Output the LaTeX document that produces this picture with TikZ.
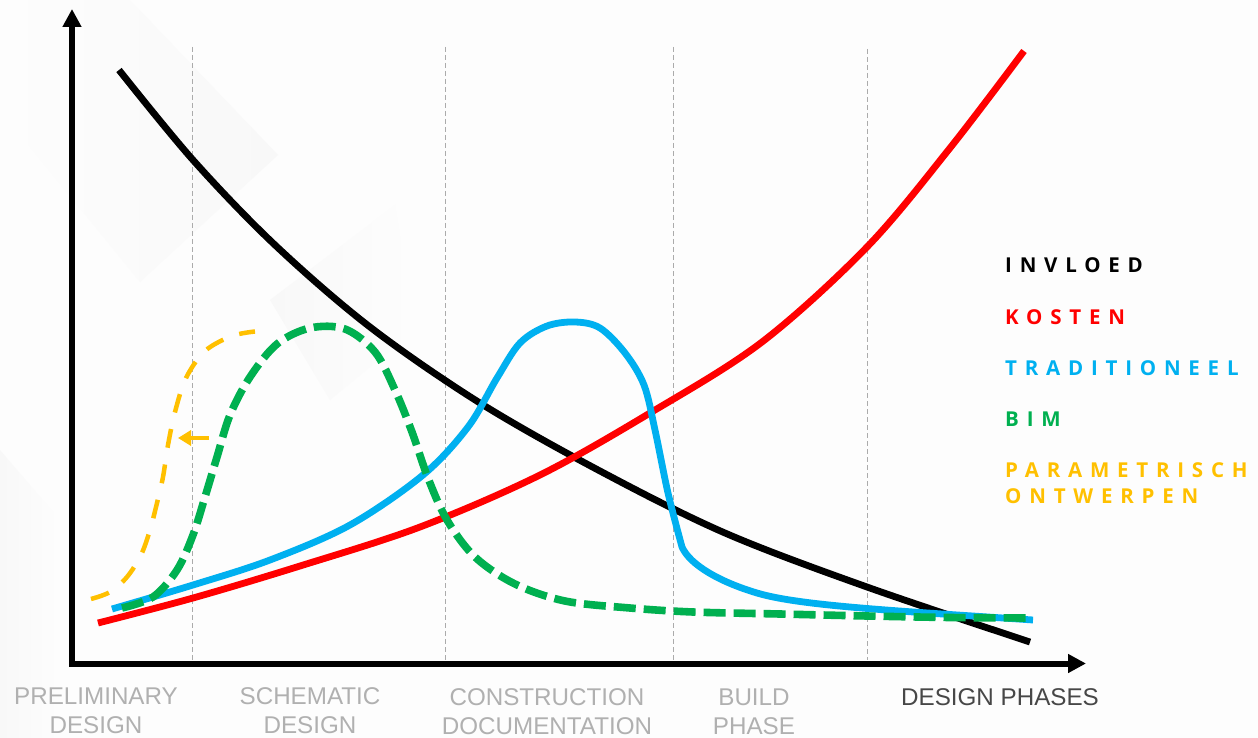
\documentclass[tikz,border=0pt]{standalone}
\usepackage{fontspec}
\setmainfont{Liberation Sans}
\newfontfamily\legendfont[LetterSpace=38]{Open Sans}
\usetikzlibrary{arrows.meta}
\definecolor{cblue}{HTML}{00B0F0}
\definecolor{cgreen}{HTML}{00B050}
\definecolor{cyellow}{HTML}{FFC000}
\definecolor{cguide}{HTML}{ABABAB}
\definecolor{cphase}{HTML}{B0B0B0}
\definecolor{bgbase}{HTML}{FDFDFD}
\definecolor{bgshape}{HTML}{F8F8F8}
\tikzset{
  axisline/.style={line width=6pt,-{Triangle[length=18pt,width=18pt]}},
  guide/.style={cguide,line width=1pt,dash pattern=on 5pt off 3pt},
  curve/.style={line width=6.8pt,line join=round},
  legend/.style={anchor=west,inner sep=0pt,font=\legendfont\bfseries\fontsize{20.5}{20.5}\selectfont},
  phase/.style={align=center,inner sep=0pt,cphase,font=\fontsize{24.2}{29}\selectfont},
  facet/.style={left color=bgbase,right color=bgshape,draw=none},
}
\begin{document}
\begin{tikzpicture}[x=1pt,y=-1pt]
\useasboundingbox (0,0) rectangle (1258,738);
\fill[bgbase] (0,0) rectangle (1258,738);
% faint background facets
\shade[facet] (0,0) -- (130,0) -- (278,155) -- (140,282) -- (0,110) -- cycle;
\shade[facet,left color=bgshape,right color=bgbase] (270,300) -- (395,205) -- (415,330) -- (330,400) -- cycle;
\shade[facet,left color=bgshape,right color=bgbase] (0,450) -- (60,520) -- (60,738) -- (0,738) -- cycle;
% guides
\foreach \n/\x/\t in {a/192.5/47,b/445/47,c/673.5/47,d/867/49}{
  \coordinate (\n top) at (\x,\t);
  \coordinate (\n bot) at (\x,660);
  \draw[guide] (\n top) -- (\n bot);
}
% axes
\coordinate (origin) at (72,663.5);
\coordinate (ytip) at (72,9);
\coordinate (xtip) at (1086,663.5);
\draw[axisline] (origin) -- (ytip);
\draw[axisline] ([xshift=-3pt]origin) -- (xtip);
% curves
\draw[curve,cyellow,line width=4.5pt,dash pattern=on 19pt off 17pt]
  plot[smooth,tension=.55] coordinates {(91,599) (110,592) (127,577) (141,555) (150,530) (157,503) (163,477) (168,445) (175,412) (186,378) (205,351) (232,336) (255,331.5)};
\draw[curve,black] plot[smooth,tension=.55] coordinates {(119,70) (193,160) (275,245) (370,327) (480,403) (600,471) (725,533) (867,587) (1030,642)};
\draw[curve,red] plot[smooth,tension=.55] coordinates {(98,623) (193,598) (300,566) (420,527) (540,475) (650,413) (762,342) (867,247) (950,148) (1024,51)};
\draw[curve,cblue] plot[smooth,tension=.55] coordinates {(112,609) (193,585) (270,560) (350,525) (423,475) (468,427) (497,378) (520,343) (547,326) (575,322) (600,328) (625,353) (644,385) (655,430) (668,493) (682,547)}
  .. controls (690,565) and (720,582) .. (757,593)
  .. controls (800,606) and (900,611) .. (1033,620);
\draw[curve,cgreen,line width=7.6pt,dash pattern=on 22pt off 8pt] plot[smooth,tension=.55] coordinates {(122,608) (153,597) (177,570) (193,535) (205,497) (217,457) (230,415) (250,377) (277,344) (310,328) (345,329) (375,352) (395,390) (412,432) (428,478) (447,520) (475,557) (515,584) (565,601) (630,608) (693,612) (780,614) (867,616) (950,617.5) (1030,618)};
% shift arrow
\coordinate (shiftfrom) at (209,438);
\coordinate (shiftto) at (178,438);
\draw[cyellow,line width=4.5pt,-{Triangle[length=13pt,width=15pt]}] (shiftfrom) -- (shiftto);
% legend
\node[legend,black] (linv) at (1005,265) {INVLOED};
\node[legend,red] (lkos) at (1005,317) {KOSTEN};
\node[legend,cblue] (ltra) at (1005,368) {TRADITIONEEL};
\node[legend,cgreen] (lbim) at (1005,419) {BIM};
\node[legend,cyellow] (lpar) at (1005,470) {PARAMETRISCH};
\node[legend,cyellow] (lont) at (1005,496) {ONTWERPEN};
% phases
\node[phase] (p1) at (96,711) {PRELIMINARY\\DESIGN};
\node[phase] (p2) at (310,711) {SCHEMATIC\\DESIGN};
\node[phase] (p3) at (547,712) {CONSTRUCTION\\DOCUMENTATION};
\node[phase] (p4) at (754,712) {BUILD\\PHASE};
\node[phase,text=black!72] (p5) at (1000,697) {DESIGN PHASES};
\end{tikzpicture}
\end{document}
